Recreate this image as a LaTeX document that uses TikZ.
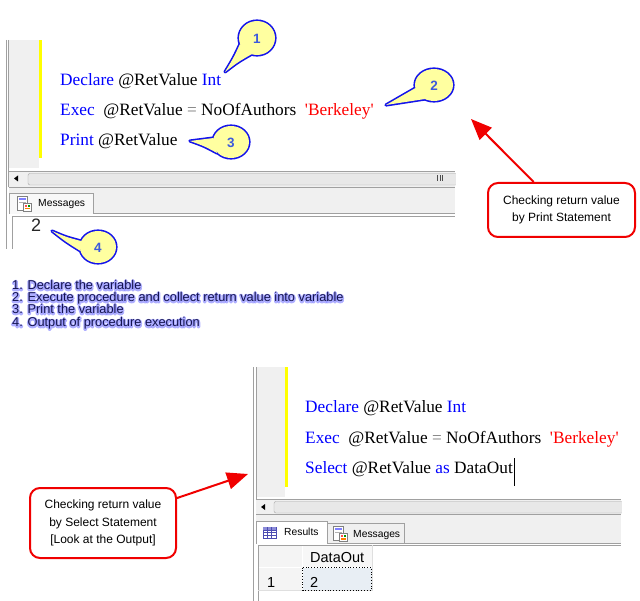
\documentclass[tikz,border=0pt]{standalone}
\usepackage{fontspec}
\setmainfont{Liberation Serif}
\setsansfont{Liberation Sans}
\usetikzlibrary{arrows.meta,calc}
\definecolor{kw}{RGB}{0,0,255}
\definecolor{str}{RGB}{255,0,0}
\definecolor{eqc}{RGB}{120,120,120}
\definecolor{marginc}{RGB}{240,240,240}
\definecolor{panelline}{RGB}{160,160,160}
\definecolor{calfill}{RGB}{255,255,160}
\definecolor{calline}{RGB}{20,20,235}
\definecolor{calnum}{RGB}{60,90,220}
\definecolor{redc}{RGB}{240,0,0}
\definecolor{cellfill}{RGB}{232,238,244}
\definecolor{listc}{RGB}{20,20,80}
\definecolor{glowc}{RGB}{140,140,255}
\definecolor{yel}{RGB}{255,255,0}
\newcommand\glowon{\special{pdf:literal direct 1 Tr 2.6 w 1 J 1 j}}
\newcommand\glowoff{\special{pdf:literal direct 0 Tr 0.4 w 0 J 0 j}}
\begin{document}
\begin{tikzpicture}[x=1pt,y=-1pt,
  code/.style={anchor=base west, inner sep=0pt, font=\fontsize{17.3}{20}\selectfont},
  tabtxt/.style={anchor=base west, inner sep=0pt, font=\sffamily\fontsize{10.3}{12}\selectfont},
  gridtxt/.style={anchor=base west, inner sep=0pt, font=\sffamily\fontsize{14.5}{16}\selectfont},
  listtxt/.style={anchor=base west, inner sep=0pt, font=\sffamily\fontsize{12.8}{14}\selectfont},
  redbox/.style={draw=redc, line width=2pt, rounded corners=10pt, fill=white, align=center,
    font=\sffamily\fontsize{12}{17.5}\selectfont, inner sep=0pt},
  redarrow/.style={draw=redc, line width=2pt, -{Triangle[length=21pt,width=17pt]}},
  calnumtxt/.style={font=\sffamily\bfseries\fontsize{13.5}{13.5}\selectfont, text=calnum, inner sep=0pt},
  calstroke/.style={draw=calline, line width=3.2pt, line join=round},
  panel/.style={draw=panelline, line width=0.8pt},
]
\useasboundingbox (0,0) rectangle (640,601);

% ================= TOP PANEL =================
\fill[marginc] (8,40) rectangle (39,168);
\fill[yel] (39,40) rectangle (41.5,158);
\draw[panel] (6,40) -- (6,249);
\draw[panel] (8.5,40) -- (8.5,187);
% scrollbar
\fill[marginc] (8.5,171) rectangle (455,187);
\draw[panel] (8.5,171) -- (455,171);
\draw[draw=gray!70, fill=gray!18, rounded corners=2pt] (28,173.5) rectangle (460,185);
\fill[white] (455.5,170) rectangle (462,187);
\fill[black] (14,178.5) -- (18,175.5) -- (18,181.5) -- cycle;
\foreach \gx in {437.5,440,442.5} \draw[gray!60!black, line width=0.6pt] (\gx,175.5) -- (\gx,181.5);
% tab strip
\fill[marginc] (8.5,187) rectangle (455,214);
\draw[panel] (8.5,187) -- (455,187);
\draw[panel, fill=marginc!50!white] (9.5,214) -- (9.5,193) -- (93,193) -- (93,213) -- (455,213);
\draw[panel] (12.5,216) -- (455,216);
\draw[panel] (12.5,216) -- (12.5,249);
% messages icon
\draw[gray, fill=white] (17,196) rectangle (27,210);
\fill[blue!50] (18.5,198) rectangle (25.5,200);
\fill[gray!60] (18.5,202) rectangle (25.5,203);
\draw[gray, fill=white] (23,203) rectangle (31,211);
\fill[red!70] (24.5,205) rectangle (26.5,207);
\fill[green!60!black] (27.5,205) rectangle (29.5,207);
\fill[orange] (24.5,208) rectangle (29.5,209.5);
\node[tabtxt] (msg1) at (38,207) {Messages};
\node[anchor=base west, inner sep=0pt, font=\sffamily\fontsize{18}{18}\selectfont, text=black!85] (out1) at (31,232) {2};

% code lines top
\node[code] (l1) at (60,86) {{\color{kw}Declare} @RetValue {\color{kw}Int}};
\node[code] (l2) at (60,116) {{\color{kw}Exec}\ \ @RetValue {\color{eqc}=} NoOfAuthors\ \ {\color{str}\textquotesingle Berkeley\textquotesingle}};
\node[code] (l3) at (60,146) {{\color{kw}Print} @RetValue};

% ================= YELLOW CALLOUTS =================
% 1
\path[calstroke] (257,38) ellipse [x radius=18, y radius=17];
\path[calstroke] (240,44) .. controls (234,57) .. (225,72) .. controls (238,62) .. (252,54) -- cycle;
\fill[calfill] (257,38) ellipse [x radius=18, y radius=17];
\fill[calfill] (240,44) .. controls (234,57) .. (225,72) .. controls (238,62) .. (252,54) -- cycle;
\node[calnumtxt] (n1) at (257,39) {1};
% 2
\path[calstroke] (434,85) ellipse [x radius=19, y radius=16];
\path[calstroke] (415.5,88) .. controls (400,96) .. (386,105) .. controls (405,102) .. (425,99) -- cycle;
\fill[calfill] (434,85) ellipse [x radius=19, y radius=16];
\fill[calfill] (415.5,88) .. controls (400,96) .. (386,105) .. controls (405,102) .. (425,99) -- cycle;
\node[calnumtxt] (n2) at (434,86) {2};
% 3
\path[calstroke] (231,142) ellipse [x radius=18, y radius=16];
\path[calstroke] (213.5,138) .. controls (202,140) .. (190,141) .. controls (204,146) .. (217,153) -- cycle;
\fill[calfill] (231,142) ellipse [x radius=18, y radius=16];
\fill[calfill] (213.5,138) .. controls (202,140) .. (190,141) .. controls (204,146) .. (217,153) -- cycle;
\node[calnumtxt] (n3) at (231,143) {3};
% 4
\path[calstroke] (98,247) ellipse [x radius=18, y radius=16];
\path[calstroke] (81,241) .. controls (66,237) .. (52,231) .. controls (66,242) .. (80.5,251) -- cycle;
\fill[calfill] (98,247) ellipse [x radius=18, y radius=16];
\fill[calfill] (81,241) .. controls (66,237) .. (52,231) .. controls (66,242) .. (80.5,251) -- cycle;
\node[calnumtxt] (n4) at (98,248) {4};

% ================= LIST (with soft blue glow) =================
\foreach \ln/\ly/\lt in {a/290/{1. Declare the variable},
  b/302/{2. Execute procedure and collect return value into variable},
  c/314/{3. Print the variable},
  d/327/{4. Output of procedure execution}} {
  \node[listtxt, text=glowc, opacity=0.7] (glow\ln) at (12,\ly) {\glowon\lt\glowoff};
}
\foreach \ln/\ly/\lt in {a/290/{1. Declare the variable},
  b/302/{2. Execute procedure and collect return value into variable},
  c/314/{3. Print the variable},
  d/327/{4. Output of procedure execution}} {
  \node[listtxt, text=listc] (list\ln) at (12,\ly) {\lt};
}

% ================= RED CALLOUT TOP =================
\node[redbox, minimum width=147pt, minimum height=54pt] (c1) at (561.5,210)
  {Checking return value\\by Print Statement};
\coordinate (a1t) at (471,119);
\draw[redarrow] (c1) -- (a1t);

% ================= BOTTOM PANEL =================
\fill[marginc] (256,367) rectangle (285,497);
\fill[yel] (285,367) rectangle (287.5,487);
\draw[panel] (253,367) -- (253,601);
\draw[panel] (256,367) -- (256,514);
% scrollbar
\fill[marginc] (256,499) rectangle (621,514);
\draw[panel] (256,499) -- (621,499);
\draw[draw=gray!70, fill=gray!18, rounded corners=2pt] (274,501.5) rectangle (626,513);
\fill[white] (621.5,497) rectangle (630,515);
\fill[black] (261,507) -- (265,504) -- (265,510) -- cycle;
% tab strip
\fill[marginc] (256,514) rectangle (621,544);
\draw[panel] (256,514.5) -- (621,514.5);
\draw[panel, fill=gray!12] (327,544) -- (327,523) -- (404,523) -- (404,544);
\draw[panel, fill=white] (256,544) -- (256,521) -- (327,521) -- (327,544);
\draw[panel] (327,543.5) -- (621,543.5);
% results icon
\draw[gray!60!blue, fill=white] (263,527) rectangle (276,538);
\fill[gray!50!blue!60] (263,527) rectangle (276,530);
\foreach \gx in {267.3,271.6} \draw[gray!60!blue, line width=0.5pt] (\gx,527) -- (\gx,538);
\foreach \gy in {530,532.7,535.3} \draw[gray!60!blue, line width=0.5pt] (263,\gy) -- (276,\gy);
\node[tabtxt] (res) at (284,535.5) {Results};
% messages icon 2
\draw[gray, fill=white] (333,526) rectangle (343,540);
\fill[blue!50] (334.5,528) rectangle (341.5,530);
\fill[gray!60] (334.5,532) rectangle (341.5,533);
\draw[gray, fill=white] (339,533) rectangle (347,541);
\fill[red!70] (340.5,535) rectangle (342.5,537);
\fill[green!60!black] (343.5,535) rectangle (345.5,537);
\fill[orange] (340.5,538) rectangle (345.5,539.5);
\node[tabtxt] (msg2) at (353,537.5) {Messages};
% grid
\fill[white] (258,545) rectangle (621,601);
\draw[panel] (258,545) -- (621,545);
\draw[panel] (258,545) -- (258,601);
\fill[gray!9] (259,546) rectangle (301.5,566.5);
\fill[gray!6] (302.5,546) rectangle (371.5,566.5);
\fill[gray!9] (259,567.5) rectangle (301.5,590);
\draw[gray!25] (258,590.5) -- (372,590.5);
\draw[gray!25] (372,545) -- (372,590.5);
\fill[cellfill] (302.5,567.5) rectangle (371.5,590);
\draw[black, line width=0.8pt, dotted] (302.5,567.5) rectangle (371.5,590);
\node[gridtxt] (hdr) at (310,562) {DataOut};
\node[gridtxt] (r1) at (267,587) {1};
\node[gridtxt] (v1) at (310,587) {2};

% code lines bottom
\node[code] (b1) at (305,413) {{\color{kw}Declare} @RetValue {\color{kw}Int}};
\node[code] (b2) at (305,443) {{\color{kw}Exec}\ \ @RetValue {\color{eqc}=} NoOfAuthors\ \ {\color{str}\textquotesingle Berkeley\textquotesingle}};
\node[code] (b3) at (305,473) {{\color{kw}Select} @RetValue {\color{kw}as} DataOut};
\draw[black, line width=1pt] (b3.base east) ++(1,-15) -- ++(0,28);

% ================= RED CALLOUT BOTTOM =================
\node[redbox, minimum width=146pt, minimum height=70pt] (c2) at (103,523)
  {Checking return value\\by Select Statement\\{[}Look at the Output{]}};
\coordinate (a2t) at (248,474);
\draw[redarrow] (c2) -- (a2t);
\end{tikzpicture}
\end{document}
